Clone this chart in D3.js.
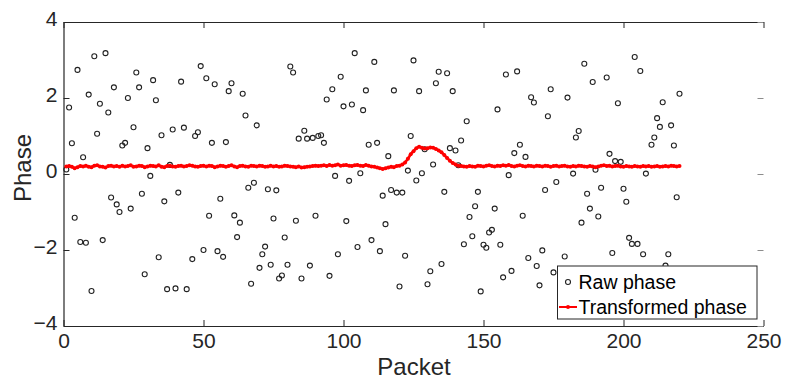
<!DOCTYPE html>
<html>
<head>
<meta charset="utf-8">
<script src="https://cdn.jsdelivr.net/npm/d3@7"></script>
<style>
  html, body { margin: 0; padding: 0; background: #fff; }
  svg { display: block; font-family: "Liberation Sans", Arial, Helvetica, sans-serif; }
</style>
</head>
<body>
<svg width="785" height="381"></svg>
<script>
// raw phase samples (packet, phase)
const rawPackets = [
    1, 2, 3, 4, 5, 6, 7, 8, 9, 10, 11, 12, 13, 14, 15, 16, 17, 18, 19, 20,
    21, 22, 23, 24, 25, 26, 27, 28, 29, 30, 31, 32, 33, 34, 35, 36, 37, 38, 39, 40,
    41, 42, 43, 44, 46, 47, 48, 49, 50, 51, 52, 53, 54, 55, 56, 57, 58, 59, 60,
    61, 62, 63, 64, 65, 66, 67, 68, 69, 70, 71, 72, 73, 74, 75, 76, 77, 78, 79, 80,
    81, 82, 83, 84, 85, 86, 87, 88, 89, 90, 91, 92, 93, 94, 95, 96, 97, 98, 99, 100,
    101, 102, 103, 104, 105, 106, 107, 108, 109, 110, 111, 112, 113, 114, 115, 116, 117, 118, 119, 120,
    121, 122, 123, 124, 125, 126, 127, 128, 129, 130, 131, 132, 133, 134, 135, 136, 137, 138, 139, 140,
    141, 142, 143, 144, 145, 146, 147, 148, 149, 150, 151, 152, 153, 154, 155, 156, 157, 158, 159, 160,
    161, 162, 163, 164, 165, 166, 167, 168, 169, 170, 171, 172, 173, 174, 175, 176, 179, 180,
    182, 183, 184, 185, 186, 187, 188, 189, 190, 191, 192, 194, 195, 196, 197, 198, 199, 200,
    201, 202, 203, 204, 205, 206, 207, 208, 210, 211, 212, 213, 214, 215, 216, 217, 218, 219, 220
]
const rawPhase = [
    0.12, 1.75, 0.81, -1.15, 2.74, -1.79, 0.44, -1.81, 2.09, -3.08, 3.10, 1.06, 1.85, -1.74, 3.18, 1.62, -0.62, 2.28, -0.80, -1.00,
    0.75, 0.82, 2.00, -0.91, 1.23, 2.67, 2.28, -0.52, -2.64, 0.68, -0.05, 2.47, 1.94, -2.19, 1.02, -0.72, -3.03, 0.24, 1.17, -3.01,
    -0.49, 2.43, 1.22, -3.03, -2.24, 1.00, 1.10, 2.84, -2.00, 2.52, -1.10, 0.82, 2.36, -2.03, -0.65, -2.18, 0.84, 2.18, 2.39,
    -1.09, -1.66, -1.28, 2.11, 1.54, -0.36, -2.89, -0.23, 1.28, -2.47, -2.11, -1.91, -0.40, -2.39, -1.17, -0.43, -2.75, -2.67, -1.67, -2.39,
    2.83, 2.67, -1.23, 0.93, -2.75, 1.14, 0.93, -2.41, 0.95, -1.10, 1.00, 1.02, 0.82, 1.96, -2.68, 2.23, -0.05, -2.11, 2.56, 1.78,
    -1.24, -0.18, 1.83, 3.18, -1.92, 0.02, 1.68, 2.20, 0.77, -1.74, 2.95, 0.82, -2.03, -0.57, -1.32, 0.47, -0.42, 2.20, -0.49, -2.96,
    -0.49, -2.15, 0.09, 1.00, 2.99, -0.17, 2.18, 0.02, 0.65, -2.90, -2.56, 0.25, 2.39, 2.69, -2.37, -0.47, 2.65, 0.68, 2.18, 0.62,
    0.23, 0.88, -1.85, 1.39, -1.13, -1.64, -0.85, -0.47, -3.09, -1.86, -1.94, -1.54, -1.47, -0.91, 1.70, -1.86, -2.72, 2.62, -0.03, -2.55,
    0.55, 2.70, 0.77, -1.10, 0.45, -2.21, 2.02, 1.88, -2.42, -2.93, -2.01, -0.42, 1.52, 2.23, -2.59, -0.21, -2.17, 2.01,
    0.01, 0.96, 1.13, -1.28, 2.90, -0.52, -0.91, 2.42, 0.11, -1.12, -0.36, 2.54, 0.53, -2.08, 0.34, 1.86, 0.32, -0.39,
    -0.73, -1.68, -1.84, 3.08, -1.84, 2.71, -2.11, 0.01, 0.77, 0.96, 1.47, 1.24, 1.89, -2.41, -2.11, 1.28, 0.75, -0.61, 2.11
]

// transformed phase, one value per packet 1..220
const transformedPhase = [
    0.20, 0.21, 0.19, 0.15, 0.18, 0.21, 0.20, 0.22, 0.19, 0.18,
    0.22, 0.23, 0.20, 0.19, 0.17, 0.21, 0.22, 0.20, 0.21, 0.19,
    0.22, 0.20, 0.21, 0.23, 0.19, 0.20, 0.22, 0.21, 0.18, 0.20,
    0.22, 0.21, 0.20, 0.23, 0.19, 0.18, 0.21, 0.22, 0.20, 0.19,
    0.21, 0.22, 0.20, 0.21, 0.23, 0.22, 0.20, 0.19, 0.21, 0.22,
    0.20, 0.22, 0.21, 0.18, 0.20, 0.22, 0.21, 0.19, 0.21, 0.23,
    0.20, 0.18, 0.21, 0.22, 0.20, 0.19, 0.22, 0.21, 0.20, 0.22,
    0.21, 0.19, 0.20, 0.22, 0.20, 0.21, 0.19, 0.20, 0.22, 0.21,
    0.20, 0.19, 0.18, 0.20, 0.17, 0.18, 0.19, 0.20, 0.21, 0.22,
    0.21, 0.22, 0.23, 0.21, 0.24, 0.22, 0.23, 0.25, 0.22, 0.23,
    0.24, 0.22, 0.21, 0.23, 0.24, 0.22, 0.21, 0.24, 0.22, 0.20,
    0.19, 0.17, 0.15, 0.13, 0.15, 0.17, 0.19, 0.18, 0.21, 0.22,
    0.25, 0.30, 0.40, 0.52, 0.60, 0.68, 0.72, 0.69, 0.67, 0.68,
    0.70, 0.69, 0.66, 0.62, 0.57, 0.50, 0.42, 0.35, 0.29, 0.25,
    0.22, 0.21, 0.20, 0.19, 0.21, 0.20, 0.19, 0.22, 0.21, 0.20,
    0.22, 0.23, 0.21, 0.20, 0.22, 0.21, 0.23, 0.22, 0.24, 0.21,
    0.20, 0.22, 0.23, 0.21, 0.20, 0.22, 0.21, 0.20, 0.22, 0.21,
    0.20, 0.22, 0.21, 0.19, 0.21, 0.22, 0.20, 0.21, 0.22, 0.20,
    0.19, 0.21, 0.20, 0.22, 0.21, 0.20, 0.19, 0.21, 0.20, 0.18,
    0.20, 0.22, 0.23, 0.21, 0.22, 0.20, 0.21, 0.22, 0.20, 0.19,
    0.21, 0.20, 0.19, 0.21, 0.20, 0.19, 0.21, 0.20, 0.21, 0.19,
    0.20, 0.21, 0.19, 0.20, 0.21, 0.20, 0.22, 0.21, 0.20, 0.21
]

const xTicks = [0, 50, 100, 150, 200, 250]
const yTicks = [-4, -2, 0, 2, 4]
const legendLabels = ['Raw phase', 'Transformed phase']

const axisColor = '#262626'
const plotLeft = 63.5
const plotRight = 763.5
const plotTop = 22
const plotBottom = 326

const svg = d3.select('svg')
const x = d3.scaleLinear().domain([0, 250]).range([plotLeft, plotRight])
const y = d3.scaleLinear().domain([-4, 4]).range([plotBottom, plotTop])

// axes (MATLAB style: ticks pointing inside)
const xAxis = svg.append('g')
    .attr('transform', `translate(0, ${plotBottom})`)
    .call(d3.axisBottom(x).tickValues(xTicks).tickSizeInner(-6).tickSizeOuter(0).tickPadding(7))
const yAxis = svg.append('g')
    .attr('transform', `translate(${plotLeft}, 0)`)
    .call(d3.axisLeft(y).tickValues(yTicks).tickSizeInner(-6).tickSizeOuter(0).tickPadding(6))

const topAxis = svg.append('g')
    .attr('transform', `translate(0, ${plotTop})`)
    .call(d3.axisTop(x).tickValues(xTicks).tickSizeInner(-6).tickSizeOuter(0).tickFormat(''))
const rightAxis = svg.append('g')
    .attr('transform', `translate(${plotRight}, 0)`)
    .call(d3.axisRight(y).tickValues(yTicks).tickSizeInner(-6).tickSizeOuter(0).tickFormat(''))
rightAxis.select('.domain').remove()
rightAxis.selectAll('.tick line').attr('stroke', '#8c8c8c')

;[xAxis, yAxis, topAxis].forEach((g) => {
    g.select('.domain').attr('stroke', axisColor).attr('stroke-width', 1.2)
    g.selectAll('.tick line').attr('stroke', axisColor)
})
;[xAxis, yAxis].forEach((g) => {
    g.selectAll('.tick text')
        .attr('fill', axisColor)
        .style('font-size', '21px')
        .style('font-family', '"Liberation Sans", Arial, sans-serif')
})
// labels sit a little above their ticks in the original
yAxis.selectAll('.tick text').attr('y', -3)

// raw phase circles
const raw = rawPackets.map((p, i) => ({ packet: p, phase: rawPhase[i] }))
svg.append('g')
    .attr('class', 'raw')
    .selectAll('circle')
    .data(raw)
    .join('circle')
    .attr('cx', (d) => x(d.packet))
    .attr('cy', (d) => y(d.phase))
    .attr('r', 2.5)
    .attr('fill', 'none')
    .attr('stroke', '#222')
    .attr('stroke-width', 1.1)

// transformed phase line + dot markers
const transformed = transformedPhase.map((v, i) => ({ packet: i + 1, phase: v }))
const line = d3.line().x((d) => x(d.packet)).y((d) => y(d.phase))
svg.append('path')
    .datum(transformed)
    .attr('d', line)
    .attr('fill', 'none')
    .attr('stroke', '#ff0000')
    .attr('stroke-width', 2.6)
    .attr('stroke-linejoin', 'round')
svg.append('g')
    .selectAll('circle')
    .data(transformed)
    .join('circle')
    .attr('cx', (d) => x(d.packet))
    .attr('cy', (d) => y(d.phase))
    .attr('r', 2)
    .attr('fill', '#ff0000')

// axis labels
svg.append('text')
    .attr('x', 414)
    .attr('y', 375)
    .attr('text-anchor', 'middle')
    .attr('fill', axisColor)
    .style('font-size', '24px')
    .text('Packet')
svg.append('text')
    .attr('transform', 'translate(31, 168) rotate(-90)')
    .attr('text-anchor', 'middle')
    .attr('fill', axisColor)
    .style('font-size', '24px')
    .text('Phase')

// legend
const legend = svg.append('g').attr('class', 'legend').attr('transform', 'translate(557.5, 266)')
legend.append('rect')
    .attr('width', 199.5)
    .attr('height', 53)
    .attr('fill', '#fff')
    .attr('stroke', axisColor)
    .attr('stroke-width', 1)
const items = legend.selectAll('g.legend-item')
    .data(legendLabels)
    .join('g')
    .attr('class', 'legend-item')
    .attr('transform', (d, i) => `translate(0, ${16 + i * 25})`)
items.append('text')
    .attr('x', 21)
    .attr('y', 0)
    .attr('dy', '0.36em')
    .attr('fill', '#000')
    .style('font-size', '19.5px')
    .text((d) => d)
items.filter((d, i) => i === 0)
    .append('circle')
    .attr('cx', 10.5)
    .attr('cy', 0)
    .attr('r', 2.5)
    .attr('fill', 'none')
    .attr('stroke', '#222')
    .attr('stroke-width', 1.1)
const second = items.filter((d, i) => i === 1)
second.append('line')
    .attr('x1', 1.5)
    .attr('x2', 19.5)
    .attr('stroke', '#ff0000')
    .attr('stroke-width', 2)
second.append('circle')
    .attr('cx', 10.5)
    .attr('r', 2)
    .attr('fill', '#ff0000')
</script>
</body>
</html>
